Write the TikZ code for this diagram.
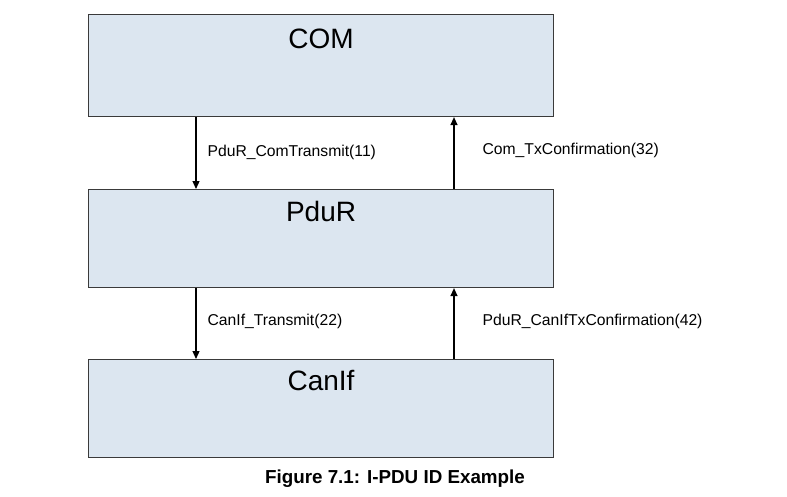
\documentclass[tikz,border=0pt]{standalone}
\usepackage{fontspec}
\setmainfont{Liberation Sans}
\usetikzlibrary{positioning,calc,arrows.meta}

\definecolor{layerfill}{HTML}{DCE6F0}
\definecolor{layerline}{HTML}{3A3A3A}

\tikzset{
    layer/.style={draw=layerline, line width=1.1pt, fill=layerfill,
        minimum width=465pt, minimum height=102pt, inner sep=0pt,
        anchor=north west},
    title/.style={font=\fontsize{28}{30}\selectfont, inner sep=0pt},
    call/.style={-{Triangle[length=8pt,width=7pt]}, line width=1.2pt},
    fn/.style={font=\fontsize{15.7}{18}\selectfont, anchor=west, inner sep=0pt}
}

\begin{document}
\begin{tikzpicture}[x=1pt,y=-1pt]
    \useasboundingbox (0,0) rectangle (787,496);
    \node[layer] (COM) at (88,14) {};
    \node[layer, minimum height=98pt] (PduR) at (88,189) {};
    \node[layer, minimum height=98pt] (CanIf) at (88,359) {};
    \node[title, anchor=base] (tCOM) at ([yshift=-34pt]COM.north) {COM};
    \node[title, anchor=base] (tPduR) at ([yshift=-32pt]PduR.north) {PduR};
    \node[title, anchor=base] (tCanIf) at ([yshift=-31pt]CanIf.north) {CanIf};
    % calls down, confirmations up
    \draw[call] ([xshift=108pt]COM.south west) -- ([xshift=108pt]PduR.north west)
        node[fn, pos=0.49, right=11pt] (l11) {PduR\_ComTransmit(11)};
    \draw[call] ([xshift=366pt]PduR.north west) -- ([xshift=366pt]COM.south west)
        node[fn, pos=0.54, right=28pt] (l32) {Com\_TxConfirmation(32)};
    \draw[call] ([xshift=108pt]PduR.south west) -- ([xshift=108pt]CanIf.north west)
        node[fn, pos=0.47, right=11pt] (l22) {CanIf\_Transmit(22)};
    \draw[call] ([xshift=366pt]CanIf.north west) -- ([xshift=366pt]PduR.south west)
        node[fn, pos=0.53, right=28pt] (l42) {PduR\_CanIfTxConfirmation(42)};
    \node[font=\bfseries\fontsize{18.8}{20}\selectfont, anchor=base] (caption)
        at (395,483) {Figure 7.1: I-PDU ID Example};
\end{tikzpicture}
\end{document}
